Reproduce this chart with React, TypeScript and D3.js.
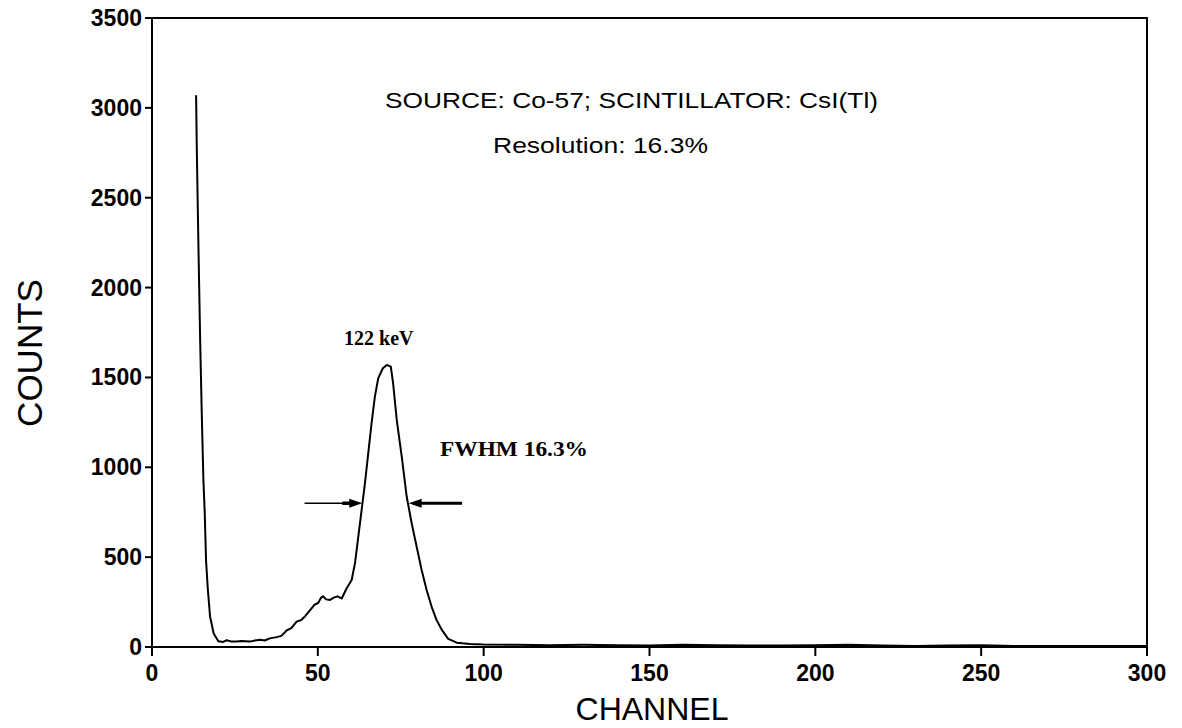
import * as d3 from 'd3'

// spectrum (channel, counts)
const channels = [
  13.3, 13.5, 14.0, 14.5, 15.0, 15.5, 15.9, 16.3, 16.8, 17.5, 18.6, 20.0, 21.5, 22.5, 24.0,
  25.5, 27.0, 29.5, 31.0, 32.6, 34.0, 35.5, 37.6, 39.0, 40.6, 42.0, 43.6, 45.0, 46.1, 47.0,
  48.1, 49.0, 50.1, 51.0, 51.6, 52.5, 53.7, 54.8, 55.9, 57.2, 58.7, 60.2, 61.2, 62.2, 63.2,
  64.2, 65.2, 66.2, 67.2, 68.2, 69.6, 70.8, 72.0, 72.7, 73.8, 75.3, 76.8, 78.3, 79.8, 81.3,
  82.8, 84.3, 85.8, 87.3, 89.3, 91.9, 95.9, 100, 110, 120, 130, 140, 150, 160, 170, 180,
  190, 200, 210, 220, 230, 240, 250, 260, 270, 280, 290, 300,
]
const counts = [
  3070, 2780, 2230, 1725, 1300, 930, 746, 480, 330, 170, 75, 32, 28, 38, 30,
  30, 33, 30, 36, 40, 36, 48, 55, 62, 92, 105, 141, 150, 170, 190,
  215, 235, 245, 275, 282, 265, 262, 275, 282, 270, 327, 373, 466, 614, 762,
  911, 1078, 1245, 1393, 1495, 1551, 1569, 1560, 1467, 1263, 1059, 836, 688, 558, 428,
  317, 225, 150, 98, 45, 24, 17, 14, 12, 10, 12, 10, 9, 12, 10, 9,
  8, 10, 12, 8, 6, 8, 10, 6, 5, 6, 5, 5,
]

const xTicks = [0, 50, 100, 150, 200, 250, 300]
const yTicks = [0, 500, 1000, 1500, 2000, 2500, 3000, 3500]

// FWHM arrows: [tail channel, tip channel] at the half-height level
const fwhmLevel = 800
const leftArrow = [46, 63.4]
const rightArrow = [93.5, 77.4]

const sansBold = '"Liberation Sans", Arial, sans-serif'
const serif = '"Liberation Serif", "Times New Roman", serif'

export default function App() {
  const width = 1182
  const height = 728

  const x = d3.scaleLinear().domain([0, 300]).range([152, 1147])
  const y = d3.scaleLinear().domain([0, 3500]).range([647, 18])

  const points = channels.map((c, i) => [c, counts[i]] as [number, number])
  const line = d3
    .line<[number, number]>()
    .x((d) => x(d[0]))
    .y((d) => y(d[1]))

  const ay = y(fwhmLevel)
  const head = (tip: number, dir: number) =>
    `M${tip},${ay} L${tip - dir * 13},${ay - 4.5} L${tip - dir * 13},${ay + 4.5} Z`

  return (
    <div style={{ position: 'absolute', left: 0, top: 0 }}>
      <svg width={width} height={height} style={{ display: 'block', background: '#fff' }}>
        {/* frame */}
        <path
          d={`M${x(0)},${y(0)} V${y(3500)} H${x(300)} V${y(0)} Z`}
          fill="none"
          stroke="#000"
          strokeWidth={2}
        />

        {/* y ticks */}
        {yTicks.map((t) => (
          <g key={t}>
            <line x1={x(0) - 7} x2={x(0)} y1={y(t)} y2={y(t)} stroke="#000" strokeWidth={2} />
            <text
              x={x(0) - 10}
              y={y(t)}
              textAnchor="end"
              dominantBaseline="central"
              fontFamily={sansBold}
              fontWeight="bold"
              fontSize={23}
            >
              {t}
            </text>
          </g>
        ))}

        {/* x ticks */}
        {xTicks.map((t) => (
          <g key={t}>
            <line x1={x(t)} x2={x(t)} y1={y(0)} y2={y(0) + 9} stroke="#000" strokeWidth={2} />
            <text
              x={x(t)}
              y={y(0) + 34}
              textAnchor="middle"
              fontFamily={sansBold}
              fontWeight="bold"
              fontSize={23}
            >
              {t}
            </text>
          </g>
        ))}

        {/* spectrum */}
        <path d={line(points) || undefined} fill="none" stroke="#000" strokeWidth={2} strokeLinejoin="round" />

        {/* FWHM arrows */}
        <line x1={x(leftArrow[0])} x2={x(leftArrow[1]) - 12} y1={ay} y2={ay} stroke="#000" strokeWidth={1.3} />
        <line x1={x(leftArrow[1]) - 20} x2={x(leftArrow[1]) - 10} y1={ay} y2={ay} stroke="#000" strokeWidth={3.5} />
        <path d={head(x(leftArrow[1]), 1)} fill="#000" />
        <line x1={x(rightArrow[0])} x2={x(rightArrow[1]) + 10} y1={ay} y2={ay} stroke="#000" strokeWidth={3} />
        <path d={head(x(rightArrow[1]), -1)} fill="#000" />

        {/* annotations */}
        <text x={385} y={108} fontFamily={sansBold} fontSize={22} textLength={493} lengthAdjust="spacingAndGlyphs">
          SOURCE: Co-57;  SCINTILLATOR: CsI(Tl)
        </text>
        <text x={493} y={153} fontFamily={sansBold} fontSize={22} textLength={215} lengthAdjust="spacingAndGlyphs">
          Resolution: 16.3%
        </text>
        <text x={x(70.8) - 8} y={345} textAnchor="middle" fontFamily={serif} fontWeight="bold" fontSize={20}>
          122 keV
        </text>
        <text
          x={440}
          y={456}
          fontFamily={serif}
          fontWeight="bold"
          fontSize={20}
          textLength={148}
          lengthAdjust="spacingAndGlyphs"
        >
          FWHM 16.3%
        </text>

        {/* axis titles */}
        <text transform="translate(42,353) rotate(-90)" textAnchor="middle" fontFamily={sansBold} fontSize={35}>
          COUNTS
        </text>
        <text x={652} y={720} textAnchor="middle" fontFamily={sansBold} fontSize={32}>
          CHANNEL
        </text>
      </svg>
    </div>
  )
}
